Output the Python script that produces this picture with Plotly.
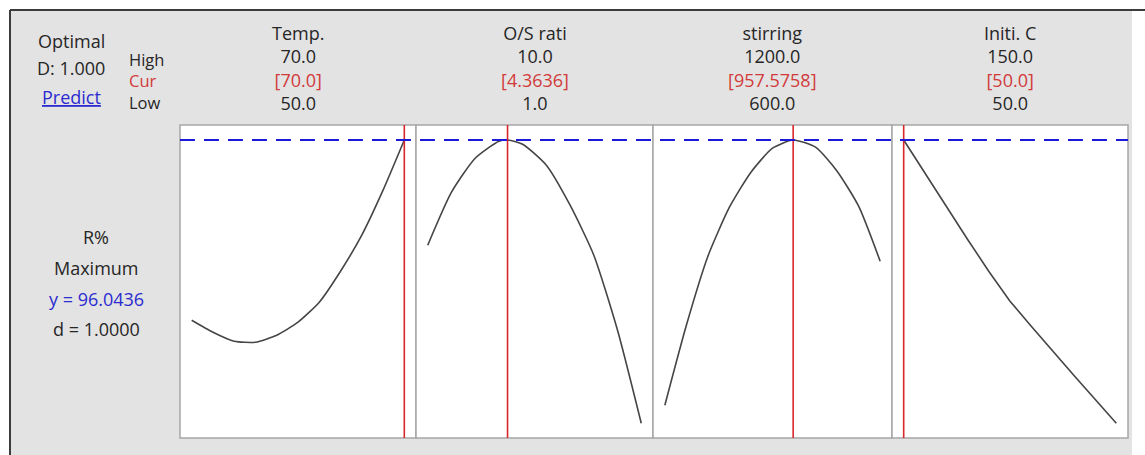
import plotly.graph_objects as go

W, H = 1145, 455

# ---------------- data ----------------
factors = ["Temp.", "O/S rati", "stirring", "Initi. C"]
high_vals = [70.0, 10.0, 1200.0, 150.0]
low_vals = [50.0, 1.0, 600.0, 50.0]
cur_vals = [70.0, 4.3636, 957.5758, 50.0]
cur_labels = ["[70.0]", "[4.3636]", "[957.5758]", "[50.0]"]

temp_x = [50, 52, 54, 56, 58, 60, 62, 64, 66, 68, 70]
temp_y = [60.0, 57.6, 55.8, 55.6, 57.0, 59.6, 63.6, 69.8, 77.0, 86.0, 96.04]

os_x = [1, 2, 3, 4, 4.3636, 5, 6, 7, 8, 9, 10]
os_y = [75.0, 85.6, 92.4, 95.8, 96.04, 95.2, 91.0, 83.0, 73.0, 58.0, 39.4]

stir_x = [600, 660, 720, 780, 840, 900, 957.5758, 1020, 1080, 1140, 1200]
stir_y = [43.0, 59.0, 72.8, 82.6, 89.6, 94.4, 96.04, 94.6, 89.8, 82.8, 71.8]

init_x = [50, 60, 70, 80, 90, 100, 110, 120, 130, 140, 150]
init_y = [96.04, 89.4, 82.6, 76.2, 69.8, 63.8, 58.8, 53.8, 49.0, 44.2, 39.4]

y_pred = 96.0436
d_val = 1.0000
D_val = 1.000
response = "R%"
goal = "Maximum"

curves_x = [temp_x, os_x, stir_x, init_x]
curves_y = [temp_y, os_y, stir_y, init_y]
smooth = [True, True, True, False]

# ---------------- layout helpers ----------------
FONT = "Open Sans"
FS = 18
DARK = "#262626"
RED = "#d23a3a"
BLUE = "#2b2bd0"


def px(x):
    return x / W


def py(y):
    return 1 - y / H


panel_px = [(180, 416), (416, 653), (653, 892), (892, 1128)]
top_px, bot_px = 125, 438

fig = go.Figure()

shapes = []
# white page + gray frame area
shapes.append(dict(type="rect", xref="paper", yref="paper", x0=px(10), x1=px(1132),
                   y0=0, y1=py(10), fillcolor="#e3e3e3", line=dict(width=0), layer="below"))
shapes.append(dict(type="line", xref="paper", yref="paper", x0=px(10), x1=1,
                   y0=py(10), y1=py(10), line=dict(color="#3c3c3c", width=2), layer="below"))
shapes.append(dict(type="line", xref="paper", yref="paper", x0=px(10), x1=px(10),
                   y0=0, y1=py(10), line=dict(color="#3c3c3c", width=2), layer="below"))

for i, (x0, x1) in enumerate(panel_px):
    shapes.append(dict(type="rect", xref="paper", yref="paper", x0=px(x0), x1=px(x1),
                       y0=py(bot_px), y1=py(top_px), fillcolor="white",
                       line=dict(color="#a6a6a6", width=1.5), layer="below"))

annotations = []


def ann(text, x, y, color=DARK, size=FS, xanchor="center", align="center"):
    annotations.append(dict(text=text, x=px(x), y=py(y), xref="paper", yref="paper",
                            showarrow=False, xanchor=xanchor, yanchor="middle", align=align,
                            font=dict(family=FONT, size=size, color=color)))


def red(t):
    return f"<span style='color:{RED}'>{t}</span>"


ann("Optimal", 71, 41)
ann(f"D: {D_val:.3f}", 71, 68)
ann("<u>Predict</u>", 71, 97, color=BLUE)
ann(f"High<br>{red('Cur')}<br>Low", 127, 81, size=16.5, xanchor="left", align="left")

ann(response, 96, 237)
ann(goal, 96, 268)
ann(f"y = {y_pred:.4f}", 96, 299, color=BLUE)
ann(f"d = {d_val:.4f}", 96, 329)

layout_axes = {}
for i in range(4):
    x0, x1 = panel_px[i]
    cx = (x0 + x1) / 2
    ann(f"{factors[i]}<br>{high_vals[i]:.1f}<br>{red(cur_labels[i])}<br>{low_vals[i]:.1f}",
        cx, 68)

    span = high_vals[i] - low_vals[i]
    pad = 0.055 * span
    key = "xaxis" if i == 0 else f"xaxis{i + 1}"
    ref = "x" if i == 0 else f"x{i + 1}"
    layout_axes[key] = dict(domain=[px(x0), px(x1)], range=[low_vals[i] - pad, high_vals[i] + pad],
                            visible=False, anchor="y", fixedrange=True)

    line = dict(color="#454545", width=1.6)
    if smooth[i]:
        line.update(shape="spline", smoothing=0.6)
    fig.add_trace(go.Scatter(x=curves_x[i], y=curves_y[i], mode="lines", line=line,
                             xaxis=ref, yaxis="y", hoverinfo="skip", showlegend=False))

    shapes.append(dict(type="line", xref=ref, yref="paper", x0=cur_vals[i], x1=cur_vals[i],
                       y0=py(bot_px), y1=py(top_px), line=dict(color="#d9262a", width=1.6),
                       layer="above"))

# optimal response dashed line across all panels
shapes.append(dict(type="line", xref="paper", yref="y", x0=px(panel_px[0][0]), x1=px(panel_px[-1][1]),
                   y0=y_pred, y1=y_pred, line=dict(color="#1a1ad8", width=2, dash="15px,9px"),
                   layer="above"))

fig.update_layout(
    width=W, height=H,
    margin=dict(l=0, r=0, t=0, b=0),
    paper_bgcolor="white",
    plot_bgcolor="rgba(0,0,0,0)",
    showlegend=False,
    shapes=shapes,
    annotations=annotations,
    yaxis=dict(domain=[py(bot_px), py(top_px)], range=[36.44, 99.04], visible=False,
               anchor="x", fixedrange=True),
    **layout_axes,
)

fig.write_html("out.html")
